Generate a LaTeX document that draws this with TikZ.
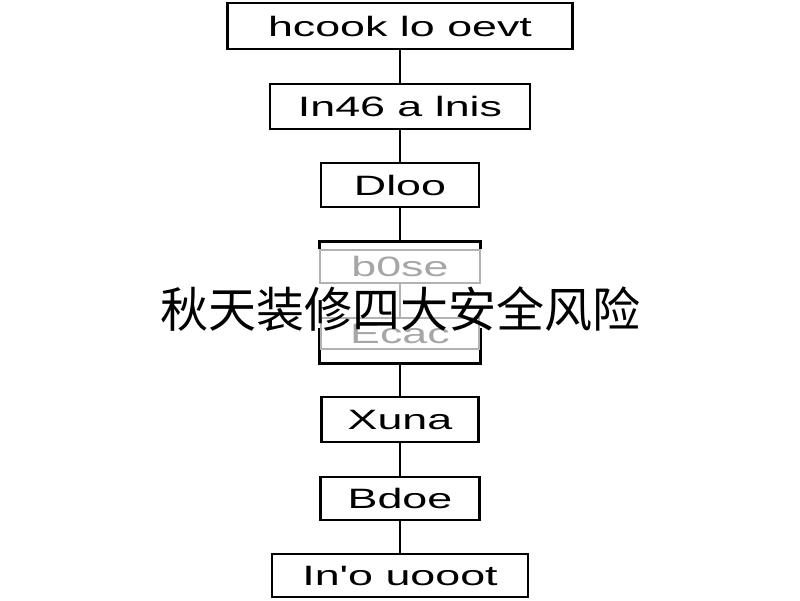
\documentclass[tikz,border=0pt]{standalone}
\usepackage{fontspec}
\setmainfont{Liberation Sans}
\newfontfamily\widesans[FakeStretch=1.6]{Liberation Sans}
\newfontfamily\cjk{Noto Sans CJK SC}
\begin{document}
\begin{tikzpicture}[x=1pt,y=-1pt,
  box/.style={draw=black,line width=2.2pt,inner sep=0pt,font=\widesans\fontsize{28}{30}\selectfont},
  fadebox/.style={draw=black!30,line width=1.8pt,inner sep=0pt,text=black!35,font=\widesans\fontsize{28}{30}\selectfont},
  link/.style={line width=2.2pt}]
\useasboundingbox (0,0) rectangle (800,600);
\node[box,minimum width=345,minimum height=46] (b1) at (400,26) {hcook lo oevt};
\node[box,minimum width=260,minimum height=45] (b2) at (400,106.5) {In46 a lnis};
\node[box,minimum width=158,minimum height=44] (b3) at (400,185) {Dloo};
\node[box,minimum width=161,minimum height=122] (b4) at (400,302.5) {};
\node[box,minimum width=157,minimum height=45] (b5) at (400,419.5) {Xuna};
\node[box,minimum width=159,minimum height=43] (b6) at (400,498.5) {Bdoe};
\node[box,minimum width=256,minimum height=43] (b7) at (400,575.5) {In'o uooot};
\draw[link] (b1) -- (b2);
\draw[link] (b2) -- (b3);
\draw[link] (b3) -- (b4);
\draw[link] (b4) -- (b5);
\draw[link] (b5) -- (b6);
\draw[link] (b6) -- (b7);
\fill[white] (317,249) rectangle (484,328);
\node[fadebox,minimum width=160,minimum height=33] (f1) at (400,266.5) {b0se};
\node[fadebox,minimum width=158,minimum height=31] (f2) at (400,333.5) {Ecac};
\draw[draw=black!30,line width=1.6pt] (f1) -- (f2);
\node[font=\cjk\fontsize{48}{50}\selectfont,inner sep=0pt] (title) at (400,309) {秋天装修四大安全风险};
\end{tikzpicture}
\end{document}
